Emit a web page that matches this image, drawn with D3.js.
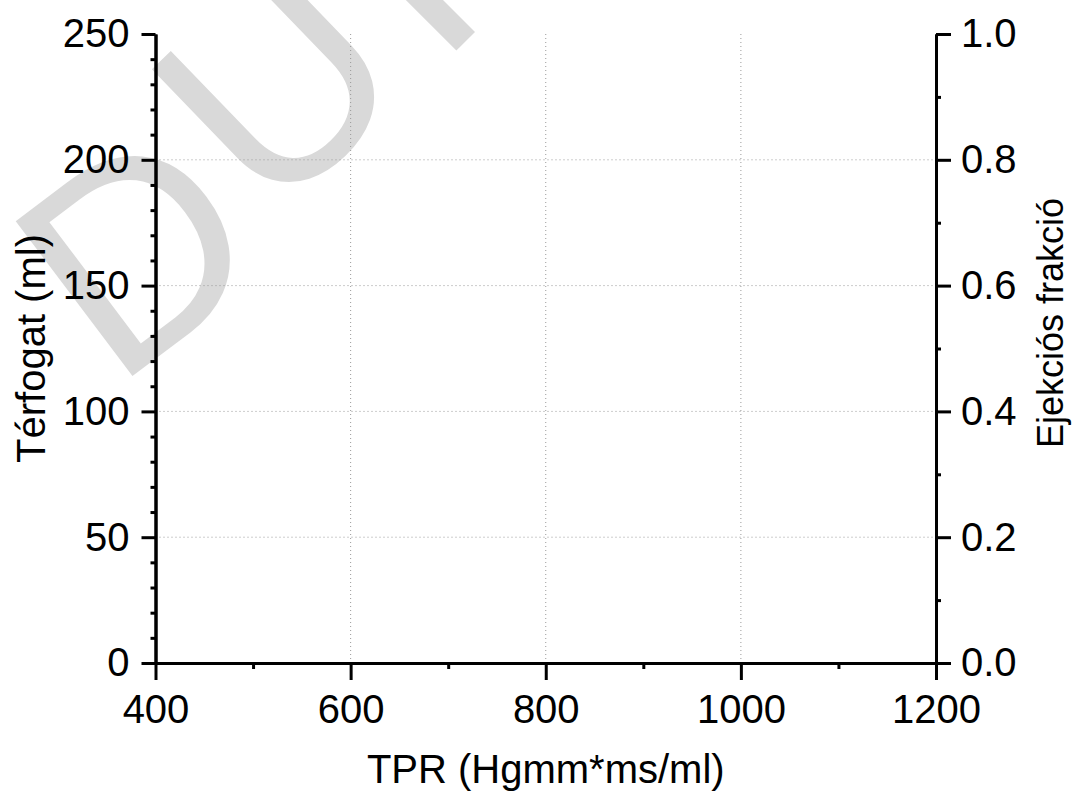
<!DOCTYPE html>
<html>
<head>
<meta charset="utf-8">
<script src="https://cdn.jsdelivr.net/npm/d3@7"></script>
<style>
  body { margin: 0; background: #fff; }
  text { font-family: "Liberation Sans", Arial, sans-serif; }
</style>
</head>
<body>
<svg id="chart"></svg>
<script>
const WIDTH = 1074;
const HEIGHT = 798;

// axis ranges and labels
const xDomain = [400, 1200];
const xTicks = [400, 600, 800, 1000, 1200];
const leftDomain = [0, 250];
const leftTicks = [0, 50, 100, 150, 200, 250];
const rightDomain = [0, 1];
const rightTicks = [0, 0.2, 0.4, 0.6, 0.8, 1.0];
const xTitle = "TPR (Hgmm*ms/ml)";
const leftTitle = "Térfogat (ml)";
const rightTitle = "Ejekciós frakció";
// watermark glyphs, laid along an arc so each one gets its own turn
const watermarkGlyphs = ["D", "U", "I"];

const PLOT = {left: 155.5, right: 936, top: 34, bottom: 663};

window.onload = function(){
    drawChart();
};

function drawChart(){
    let svg = d3.select('#chart')
        .attr('width', WIDTH)
        .attr('height', HEIGHT);

    const x = d3.scaleLinear().domain(xDomain).range([PLOT.left, PLOT.right]);
    const yLeft = d3.scaleLinear().domain(leftDomain).range([PLOT.bottom, PLOT.top]);
    const yRight = d3.scaleLinear().domain(rightDomain).range([PLOT.bottom, PLOT.top]);

    // minor ticks from the scales themselves
    const xMinor = x.ticks(8).filter(d => !xTicks.includes(d));
    const leftMinor = yLeft.ticks(25).filter(d => !leftTicks.includes(d));
    const rightMinor = yRight.ticks(10).filter(d => !rightTicks.some(t => Math.abs(t - d) < 1e-9));

    // watermark (behind everything)
    const wmPlace = [
        'translate(114,390) rotate(-37)',
        'translate(271,224) rotate(-44)',
        'translate(438,69) rotate(-45)'
    ];
    svg.append('g')
        .attr('class', 'watermark')
        .selectAll('text')
        .data(watermarkGlyphs)
        .enter().append('text')
        .attr('transform', (d, i) => wmPlace[i])
        .style('font-size', '282px')
        .style('fill', '#d9d9d9')
        .text(d => d);

    // dotted grid
    let grid = svg.append('g').attr('class', 'grid');
    grid.selectAll('line.v')
        .data(xTicks.filter(d => d > xDomain[0] && d < xDomain[1]))
        .enter().append('line')
        .attr('x1', d => x(d)).attr('x2', d => x(d))
        .attr('y1', PLOT.top).attr('y2', PLOT.bottom);
    grid.selectAll('line.h')
        .data(leftTicks.filter(d => d > leftDomain[0] && d < leftDomain[1]))
        .enter().append('line')
        .attr('x1', PLOT.left).attr('x2', PLOT.right)
        .attr('y1', d => yLeft(d)).attr('y2', d => yLeft(d));
    grid.selectAll('line')
        .style('stroke', '#9a9a9a')
        .style('stroke-width', 1)
        .style('stroke-dasharray', '1,3');

    // minor ticks
    svg.append('g')
        .attr('transform', `translate(0,${PLOT.bottom})`)
        .call(d3.axisBottom(x).tickValues(xMinor).tickSize(6).tickSizeOuter(0).tickFormat(''))
        .call(styleAxis);
    svg.append('g')
        .attr('transform', `translate(${PLOT.left},0)`)
        .call(d3.axisLeft(yLeft).tickValues(leftMinor).tickSize(5).tickSizeOuter(0).tickFormat(''))
        .call(styleAxis);
    svg.append('g')
        .attr('transform', `translate(${PLOT.right},0)`)
        .call(d3.axisRight(yRight).tickValues(rightMinor).tickSize(5).tickSizeOuter(0).tickFormat(''))
        .call(styleAxis);

    // major axes
    svg.append('g')
        .attr('transform', `translate(0,${PLOT.bottom})`)
        .call(d3.axisBottom(x).tickValues(xTicks).tickSize(17).tickPadding(15)
            .tickSizeOuter(0).tickFormat(d3.format('d')))
        .call(styleAxis);
    svg.append('g')
        .attr('transform', `translate(${PLOT.left},0)`)
        .call(d3.axisLeft(yLeft).tickValues(leftTicks).tickSize(14).tickPadding(12).tickSizeOuter(0))
        .call(styleAxis);
    svg.append('g')
        .attr('transform', `translate(${PLOT.right},0)`)
        .call(d3.axisRight(yRight).tickValues(rightTicks).tickSize(15).tickPadding(10)
            .tickSizeOuter(0).tickFormat(d3.format('.1f')))
        .call(styleAxis);

    // titles
    svg.append('text')
        .attr('x', (PLOT.left + PLOT.right) / 2)
        .attr('y', 783)
        .style('text-anchor', 'middle')
        .style('font-size', '40px')
        .text(xTitle);

    svg.append('text')
        .attr('transform', `translate(45,${(PLOT.top + PLOT.bottom) / 2}) rotate(-90)`)
        .style('text-anchor', 'middle')
        .style('font-size', '40px')
        .text(leftTitle);

    svg.append('text')
        .attr('transform', `translate(1063,323) rotate(-90)`)
        .style('text-anchor', 'middle')
        .style('font-size', '36px')
        .text(rightTitle);

    function styleAxis(g){
        g.selectAll('path.domain')
            .style('stroke', '#000')
            .style('stroke-width', 3);
        g.selectAll('.tick line')
            .style('stroke', '#000')
            .style('stroke-width', 3);
        g.selectAll('.tick text')
            .style('font-family', '"Liberation Sans", Arial, sans-serif')
            .style('font-size', '40px')
            .style('fill', '#000');
    }
}
</script>
</body>
</html>
